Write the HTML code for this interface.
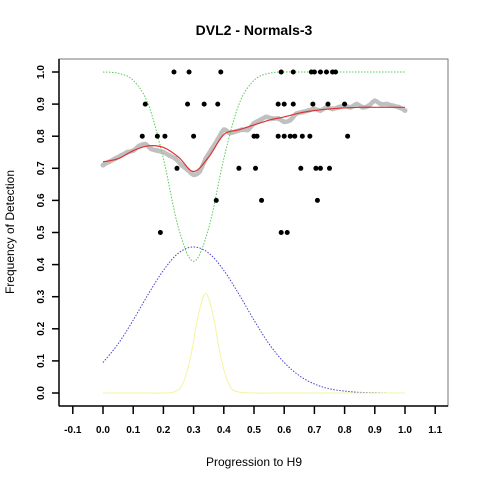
<!DOCTYPE html>
<html><head><meta charset="utf-8"><style>
body{margin:0;background:#fff}
svg text{font-family:"Liberation Sans",Arial,sans-serif}
</style></head><body>
<svg id="c" width="480" height="480" xmlns="http://www.w3.org/2000/svg">
<rect x="0" y="0" width="480" height="480" fill="#fff"/>
<text x="254" y="35" text-anchor="middle" font-size="14" font-weight="bold">DVL2 - Normals-3</text>
<text x="254" y="466" text-anchor="middle" font-size="12">Progression to H9</text>
<text transform="translate(14,232) rotate(-90)" text-anchor="middle" font-size="12">Frequency of Detection</text>
<rect x="59" y="59" width="389" height="347" fill="none" stroke="#777"/>
<line x1="59" y1="59" x2="59" y2="406" stroke="#000" stroke-width="1.5"/>
<line x1="59" y1="406" x2="448" y2="406" stroke="#000" stroke-width="1.5"/>
<g id="axes"></g>
<g id="marks"></g>
</svg>
<script>
const xTicks=[-0.1,0,0.1,0.2,0.3,0.4,0.5,0.6,0.7,0.8,0.9,1.0,1.1];
const xTickLabels=["-0.1","0.0","0.1","0.2","0.3","0.4","0.5","0.6","0.7","0.8","0.9","1.0","1.1"];
const yTicks=[0,0.1,0.2,0.3,0.4,0.5,0.6,0.7,0.8,0.9,1.0];
const yTickLabels=["0.0","0.1","0.2","0.3","0.4","0.5","0.6","0.7","0.8","0.9","1.0"];
const curveX=[0,.05,.1,.15,.2,.25,.3,.35,.4,.45,.5,.55,.6,.65,.7,.75,.8,.85,.9,.95,1.0];
const greenY=[1.0,.996,.974,.899,.73,.514,.41,.514,.73,.899,.974,.996,1,1,1,1,1,1,1,1,1];
const blueY=[.095,.153,.227,.308,.382,.436,.455,.436,.382,.308,.227,.153,.095,.054,.028,.013,.006,.002,.001,0,0];
const redY=[.72,.73,.755,.77,.765,.735,.69,.735,.805,.82,.835,.85,.86,.872,.88,.885,.888,.89,.89,.89,.89];
const yellowX=[0,.1,.2,.24,.265,.29,.315,.34,.365,.39,.415,.44,.5,.6,.7,.8,.9,1.0];
const yellowY=[0,0,0,.005,.031,.112,.24,.31,.24,.112,.031,.005,0,0,0,0,0,0];
const grayY=[.71,.72,.73,.74,.75,.755,.77,.775,.76,.755,.75,.74,.73,.71,.695,.68,.69,.73,.76,.79,.82,.81,.815,.82,.82,.84,.85,.86,.855,.855,.845,.85,.87,.875,.88,.885,.88,.89,.885,.89,.895,.89,.9,.89,.895,.91,.9,.9,.895,.89,.88];
const ptX=[.235,.285,.39,.59,.63,.69,.70,.72,.74,.76,.77,
 .14,.28,.335,.38,.58,.60,.63,.695,.745,.80,
 .13,.18,.205,.30,.50,.51,.58,.60,.62,.635,.66,.685,.81,
 .245,.45,.505,.655,.705,.72,.75,
 .375,.525,.71,
 .19,.59,.61];
const ptY=[1,1,1,1,1,1,1,1,1,1,1,
 .9,.9,.9,.9,.9,.9,.9,.9,.9,.9,
 .8,.8,.8,.8,.8,.8,.8,.8,.8,.8,.8,.8,.8,
 .7,.7,.7,.7,.7,.7,.7,
 .6,.6,.6,
 .5,.5,.5];
const NS="http://www.w3.org/2000/svg";
const sx=v=>103+302*v, sy=v=>393-321*v;
const ax=document.getElementById('axes'), mk=document.getElementById('marks');
function el(t,a,p){const e=document.createElementNS(NS,t);for(const k in a)e.setAttribute(k,a[k]);p.appendChild(e);return e;}
xTicks.forEach((v,i)=>{
 const t=el('line',{x1:sx(v),x2:sx(v),y1:406,y2:414,stroke:'#000','stroke-width':1.5},ax);
 
 
 const l=el('text',{x:sx(v),y:433,'text-anchor':'middle','font-size':10,'font-weight':'bold'},ax);
 l.textContent=xTickLabels[i];
 
 
});
yTicks.forEach((v,i)=>{
 const t=el('line',{x1:52,x2:59,y1:sy(v),y2:sy(v),stroke:'#000','stroke-width':1.5},ax);
 
 
 const l=el('text',{transform:`translate(44,${sy(v)}) rotate(-90)`,'text-anchor':'middle','font-size':10,'font-weight':'bold'},ax);
 l.textContent=yTickLabels[i];
 
 
});
function path(xs,ys){
 const P=xs.map((x,i)=>[sx(x),sy(ys[i])]);
 let d=`M${P[0][0]},${P[0][1]}`;
 for(let i=0;i<P.length-1;i++){
  const p0=P[Math.max(i-1,0)],p1=P[i],p2=P[i+1],p3=P[Math.min(i+2,P.length-1)];
  const c1=[p1[0]+(p2[0]-p0[0])/6,p1[1]+(p2[1]-p0[1])/6];
  const c2=[p2[0]-(p3[0]-p1[0])/6,p2[1]-(p3[1]-p1[1])/6];
  d+=`C${c1[0]},${c1[1]} ${c2[0]},${c2[1]} ${p2[0]},${p2[1]}`;
 }
 return d;
}
const grayX=grayY.map((_,i)=>i*0.02);
const gl=el('path',{d:path(grayX,grayY),fill:'none',stroke:'#c0c0c0','stroke-width':4.5,'stroke-linejoin':'round','stroke-linecap':'round'},mk);


grayY.forEach((v,i)=>{
 const c=el('circle',{cx:sx(grayX[i]),cy:sy(v),r:2.5,fill:'#c0c0c0'},mk);
 
 
});
const g=el('path',{d:path(curveX,greenY),fill:'none',stroke:'#5c5','stroke-width':1,'stroke-dasharray':'1.5,1.5'},mk);


const b=el('path',{d:path(curveX,blueY),fill:'none',stroke:'#44c','stroke-width':1,'stroke-dasharray':'1.5,1.5'},mk);


const y=el('path',{d:path(yellowX,yellowY),fill:'none',stroke:'#f4f4a0','stroke-width':1},mk);


const r=el('path',{d:path(curveX,redY),fill:'none',stroke:'#d33','stroke-width':1.2},mk);


ptX.forEach((v,i)=>{
 const c=el('circle',{cx:sx(v),cy:sy(ptY[i]),r:2.5,fill:'#000'},mk);
 
 
});
</script>
</body></html>
